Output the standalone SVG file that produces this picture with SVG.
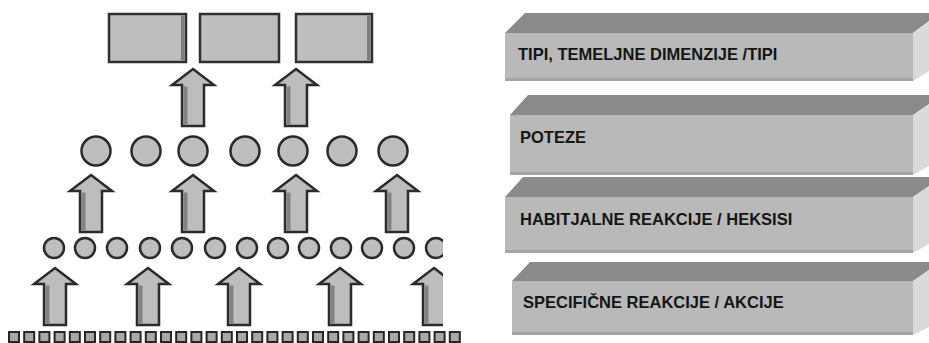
<svg xmlns="http://www.w3.org/2000/svg" xmlns:xlink="http://www.w3.org/1999/xlink" width="929" height="343" viewBox="0 0 929 343">
<style>
.box{fill:#bebebe;stroke:#303030;stroke-width:2.5}
.shade{fill:#7c7c7c}
.circ{fill:#bebebe;stroke:#2a2a2a;stroke-width:2.5}
.sq{fill:#a8a8a8;stroke:#262626;stroke-width:2}
.top{fill:#8a8a8a}
.front{fill:#b9b9b9}
.side{fill:#dadada}
.edge{fill:#a4a4a4}
.lbl{font-family:"Liberation Sans",Arial,sans-serif;font-weight:bold;font-size:16.5px;fill:#151515}
</style>
<defs>
<g id="arr">
<path d="M0,0 L21,16 L11,16 L11,57 L-11,57 L-11,16 L-21,16 Z" fill="#bdbdbd" stroke="#2b2b2b" stroke-width="2.5" stroke-linejoin="miter"/>
<path d="M-9.5,17.5 L-5.5,17.5 L-5.5,55.5 L-9.5,55.5 Z" fill="#828282"/>
</g>
<clipPath id="clipL"><rect x="0" y="0" width="443" height="343"/></clipPath>
</defs>

<!-- top level rectangles -->
<g id="rect1"><rect class="box" x="109" y="14" width="77" height="48"/><rect class="shade" x="181" y="15.5" width="3.5" height="45"/></g>
<g id="rect2"><rect class="box" x="200" y="14" width="79" height="48"/></g>
<g id="rect3"><rect class="box" x="296" y="14" width="76" height="48"/><rect class="shade" x="367" y="15.5" width="3.5" height="45"/></g>

<!-- middle circles -->
<g id="circles2">
<circle id="c2-1" class="circ" cx="96" cy="151" r="14.5"/>
<circle id="c2-2" class="circ" cx="146" cy="151" r="14.5"/>
<circle id="c2-3" class="circ" cx="193" cy="151" r="14.5"/>
<circle id="c2-4" class="circ" cx="245" cy="151" r="14.5"/>
<circle id="c2-5" class="circ" cx="293" cy="151" r="14.5"/>
<circle id="c2-6" class="circ" cx="342" cy="151" r="14.5"/>
<circle id="c2-7" class="circ" cx="393" cy="151" r="14.5"/>
</g>

<!-- small circles -->
<g id="circles3" clip-path="url(#clipL)">
<circle class="circ" cx="54" cy="248" r="10"/>
<circle class="circ" cx="85" cy="248" r="10"/>
<circle class="circ" cx="117" cy="248" r="10"/>
<circle class="circ" cx="150" cy="248" r="10"/>
<circle class="circ" cx="182" cy="248" r="10"/>
<circle class="circ" cx="215" cy="248" r="10"/>
<circle class="circ" cx="247" cy="248" r="10"/>
<circle class="circ" cx="278" cy="248" r="10"/>
<circle class="circ" cx="309" cy="248" r="10"/>
<circle class="circ" cx="341" cy="248" r="10"/>
<circle class="circ" cx="372" cy="248" r="10"/>
<circle class="circ" cx="404" cy="248" r="10"/>
<circle class="circ" cx="436" cy="248" r="10"/>
</g>

<!-- bottom squares -->
<g id="squares">
<rect class="sq" x="9" y="332" width="10" height="10"/>
<rect class="sq" x="24.2" y="332" width="10" height="10"/>
<rect class="sq" x="39.4" y="332" width="10" height="10"/>
<rect class="sq" x="54.6" y="332" width="10" height="10"/>
<rect class="sq" x="69.8" y="332" width="10" height="10"/>
<rect class="sq" x="85" y="332" width="10" height="10"/>
<rect class="sq" x="100.2" y="332" width="10" height="10"/>
<rect class="sq" x="115.4" y="332" width="10" height="10"/>
<rect class="sq" x="130.6" y="332" width="10" height="10"/>
<rect class="sq" x="145.8" y="332" width="10" height="10"/>
<rect class="sq" x="161" y="332" width="10" height="10"/>
<rect class="sq" x="176.2" y="332" width="10" height="10"/>
<rect class="sq" x="191.4" y="332" width="10" height="10"/>
<rect class="sq" x="206.6" y="332" width="10" height="10"/>
<rect class="sq" x="221.8" y="332" width="10" height="10"/>
<rect class="sq" x="237" y="332" width="10" height="10"/>
<rect class="sq" x="252.2" y="332" width="10" height="10"/>
<rect class="sq" x="267.4" y="332" width="10" height="10"/>
<rect class="sq" x="282.6" y="332" width="10" height="10"/>
<rect class="sq" x="297.8" y="332" width="10" height="10"/>
<rect class="sq" x="313" y="332" width="10" height="10"/>
<rect class="sq" x="328.2" y="332" width="10" height="10"/>
<rect class="sq" x="343.4" y="332" width="10" height="10"/>
<rect class="sq" x="358.6" y="332" width="10" height="10"/>
<rect class="sq" x="373.8" y="332" width="10" height="10"/>
<rect class="sq" x="389" y="332" width="10" height="10"/>
<rect class="sq" x="404.2" y="332" width="10" height="10"/>
<rect class="sq" x="419.4" y="332" width="10" height="10"/>
<rect class="sq" x="434.6" y="332" width="10" height="10"/>
<rect class="sq" x="449.8" y="332" width="10" height="10"/>
</g>

<!-- connectors (up arrows) -->
<g id="connectors">
<use xlink:href="#arr" href="#arr" transform="translate(193,69)"/>
<use xlink:href="#arr" href="#arr" transform="translate(296,69)"/>
<use xlink:href="#arr" href="#arr" transform="translate(91,175)"/>
<use xlink:href="#arr" href="#arr" transform="translate(193,175)"/>
<use xlink:href="#arr" href="#arr" transform="translate(296,175)"/>
<use xlink:href="#arr" href="#arr" transform="translate(397,175)"/>
<use xlink:href="#arr" href="#arr" transform="translate(55,268)"/>
<use xlink:href="#arr" href="#arr" transform="translate(148,268)"/>
<use xlink:href="#arr" href="#arr" transform="translate(239,268)"/>
<use xlink:href="#arr" href="#arr" transform="translate(340,268)"/>
<g clip-path="url(#clipL)"><use xlink:href="#arr" href="#arr" transform="translate(434,268)"/></g>
</g>

<!-- right side 3D bars -->
<g id="bar1">
<polygon class="top" points="505,33 525,13 929,13 929,21 913,33"/>
<rect class="front" x="505" y="33" width="408" height="48"/>
<rect class="edge" x="505" y="78" width="408" height="3"/>
<polygon class="side" points="913,33 929,21 929,71 913,81"/>
<text class="lbl" x="518" y="60">TIPI, TEMELJNE DIMENZIJE /TIPI</text>
</g>
<g id="bar2">
<polygon class="top" points="510,115 528,95 929,95 929,104 913,115"/>
<rect class="front" x="510" y="115" width="403" height="60"/>
<rect class="edge" x="510" y="172" width="403" height="3"/>
<polygon class="side" points="913,115 929,104 929,166 913,175"/>
<text class="lbl" x="520" y="143">POTEZE</text>
</g>
<g id="bar3">
<polygon class="top" points="505,197 523,177 929,177 929,186 913,197"/>
<rect class="front" x="505" y="197" width="408" height="56"/>
<rect class="edge" x="505" y="250" width="408" height="3"/>
<polygon class="side" points="913,197 929,186 929,244 913,253"/>
<text class="lbl" x="520" y="225">HABITJALNE REAKCIJE / HEKSISI</text>
</g>
<g id="bar4">
<polygon class="top" points="512,281 530,262 929,262 929,270 913,281"/>
<rect class="front" x="512" y="281" width="401" height="54"/>
<rect class="edge" x="512" y="332" width="401" height="3"/>
<polygon class="side" points="913,281 929,270 929,327 913,335"/>
<text class="lbl" x="523" y="308">SPECIFIČNE REAKCIJE / AKCIJE</text>
</g>
</svg>
